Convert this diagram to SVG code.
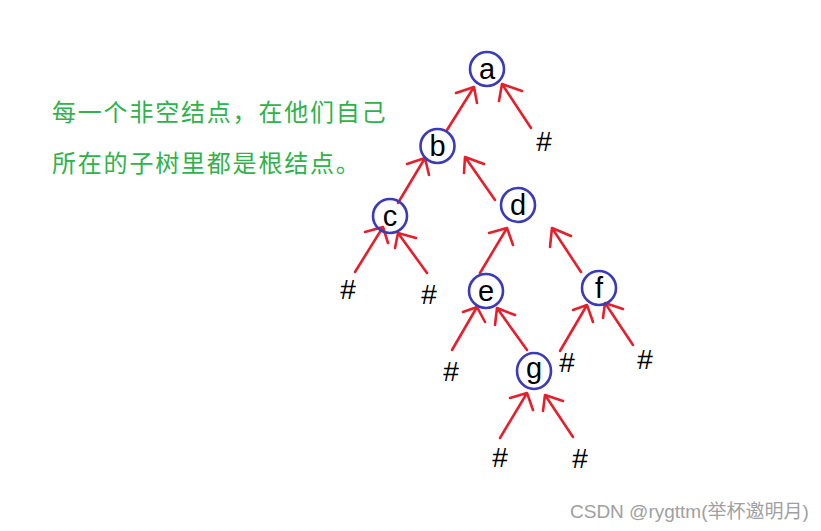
<svg xmlns="http://www.w3.org/2000/svg" width="821" height="531" viewBox="0 0 821 531">
<style>
.n{fill:none;stroke:#3b3bb8;stroke-width:2.6}
.l{font-family:"Liberation Sans",Arial,sans-serif;font-size:29px;fill:#000;text-anchor:middle}
.h{font-family:"Liberation Sans",Arial,sans-serif;font-size:28px;fill:#000;text-anchor:middle}
.a{fill:none;stroke:#e3202c;stroke-width:2.6;stroke-linecap:round;stroke-linejoin:round}
.t{font-family:"Noto Sans CJK SC","Noto Sans",sans-serif;font-size:24px;fill:#2eb24a;letter-spacing:1.8px}
.w{font-family:"Liberation Sans","Noto Sans CJK SC",sans-serif;font-size:19px;fill:#a0a0a0}
</style>
<rect width="821" height="531" fill="#fff"/>
<text class="t" x="52" y="121">每一个非空结点，在他们自己</text>
<text class="t" x="52" y="172">所在的子树里都是根结点。</text>
<g id="connectors">
<path class="a" d="M447,130L474,87M456,93L474,87L477,103"/>
<path class="a" d="M531,128L502,84M499,101L502,84L522,91"/>
<path class="a" d="M398,203L425,158M407,164L425,158L429,175"/>
<path class="a" d="M495,200L465,157M464,173L465,157L484,164"/>
<path class="a" d="M355,272L383,227M365,232L383,227L388,243"/>
<path class="a" d="M427,273L398,233M395,248L398,233L416,238"/>
<path class="a" d="M480,273L507,228M489,233L507,228L513,245"/>
<path class="a" d="M581,272L552,228M550,247L552,228L571,236"/>
<path class="a" d="M452,350L477,307M463,312L477,307L485,322"/>
<path class="a" d="M527,350L497,308M495,325L497,308L515,315"/>
<path class="a" d="M560,351L587,305M573,310L587,305L593,322"/>
<path class="a" d="M633,345L605,303M603,318L605,303L623,309"/>
<path class="a" d="M500,438L527,393M510,398L527,393L533,410"/>
<path class="a" d="M573,437L545,395M543,411L545,395L563,401"/>
</g>
<g id="node-a"><circle class="n" cx="487" cy="69" r="17"/><text class="l" x="487" y="79">a</text></g>
<g id="node-b"><circle class="n" cx="437.5" cy="146" r="17"/><text class="l" x="437.5" y="156">b</text></g>
<g id="node-c"><circle class="n" cx="390" cy="216" r="17"/><text class="l" x="390" y="226">c</text></g>
<g id="node-d"><circle class="n" cx="518" cy="205" r="17"/><text class="l" x="518" y="215">d</text></g>
<g id="node-e"><circle class="n" cx="486" cy="291" r="17"/><text class="l" x="486" y="301">e</text></g>
<g id="node-f"><circle class="n" cx="599" cy="288" r="17"/><text class="l" x="599" y="298">f</text></g>
<g id="node-g"><ellipse class="n" cx="534" cy="371" rx="17" ry="18"/><text class="l" x="534" y="378">g</text></g>
<g id="null-a"><text class="h" x="544" y="151">#</text></g>
<g id="null-c1"><text class="h" x="348" y="299">#</text></g>
<g id="null-c2"><text class="h" x="429" y="304">#</text></g>
<g id="null-e"><text class="h" x="451" y="381">#</text></g>
<g id="null-f1"><text class="h" x="567" y="372">#</text></g>
<g id="null-f2"><text class="h" x="645" y="369">#</text></g>
<g id="null-g1"><text class="h" x="500" y="467">#</text></g>
<g id="null-g2"><text class="h" x="580" y="468">#</text></g>
<text class="w" x="570" y="518">CSDN @rygttm(举杯邀明月)</text>
</svg>
